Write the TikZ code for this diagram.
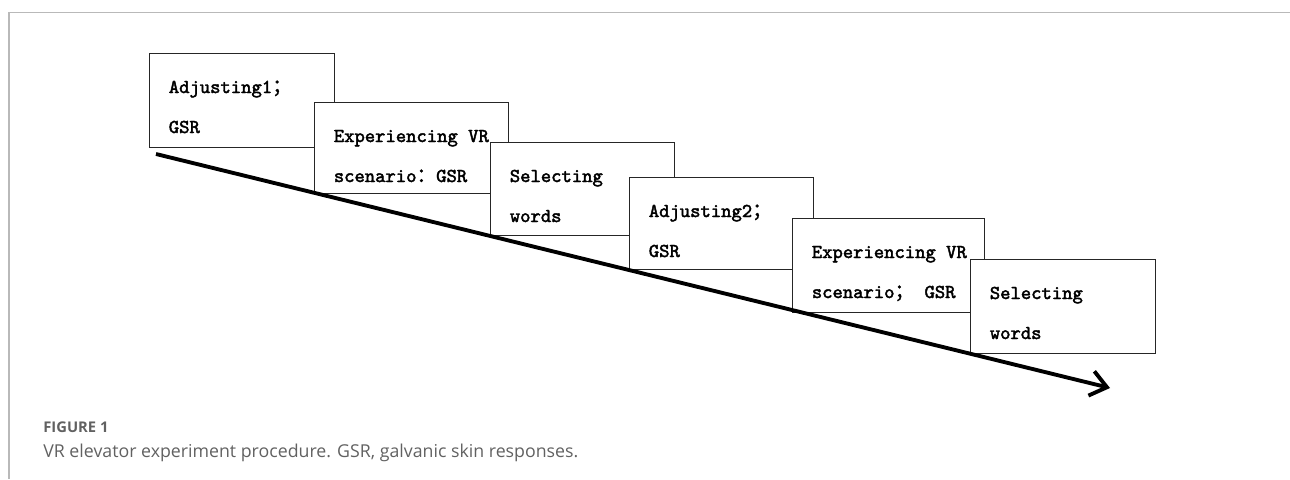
\documentclass[tikz,border=0pt]{standalone}
\usepackage{fontspec}
\setmainfont{Open Sans}
\newfontfamily\cjk{Noto Sans CJK SC}[FakeBold=1.5]
\newfontfamily\boxfont{lmmono10-regular}[Extension=.otf, FakeBold=2.2]
\usetikzlibrary{arrows.meta}

\tikzset{
  stage/.style={draw=black!85, line width=0.6pt, fill=white, anchor=north west, inner sep=0pt},
  stagetext/.style={anchor=base west, inner sep=0pt, font=\boxfont\fontsize{11.2}{14}\selectfont},
  captext/.style={anchor=base west, inner sep=0pt, text=black!62},
}

\begin{document}
\begin{tikzpicture}
\useasboundingbox (0,0) rectangle (25.8,-9.58);

% page frame
\draw[gray!55, line width=0.8pt] (25.8,-0.25) -- (0.18,-0.25) -- (0.18,-9.58);

\foreach \nm/\x/\y/\w/\h/\la/\lb in {
  adjA/2.98/-1.06/3.70/1.88/{Adjusting1{\cjk ；}}/{GSR},
  expA/6.28/-2.04/3.88/1.82/{Experiencing VR}/{scenario{\cjk ：}GSR},
  selA/9.80/-2.84/3.68/1.86/{Selecting}/{words},
  adjB/12.58/-3.54/3.68/1.84/{Adjusting2{\cjk ；}}/{GSR},
  expB/15.84/-4.36/3.84/1.88/{Experiencing VR}/{scenario{\cjk ；} GSR},
  selB/19.40/-5.18/3.70/1.88/{Selecting}/{words}} {
  \node[stage, minimum width=\w cm, minimum height=\h cm] (\nm) at (\x,\y) {};
  \node[stagetext] (\nm-a) at ([shift={(0.39,-0.80)}]\nm.north west) {\la};
  \node[stagetext] (\nm-b) at ([shift={(0.39,-1.60)}]\nm.north west) {\lb};
}

% time line
\coordinate (start) at (3.12,-3.08);
\coordinate (end) at (22.2,-7.76);
\draw[-{Straight Barb[length=0.32cm,width=0.5cm]}, line width=2.2pt] (start) -- (end);

\node[captext, font=\bfseries\fontsize{8.4}{10}\selectfont] (fig) at (0.86,-8.64) {FIGURE 1};
\node[captext, font=\fontsize{10.1}{12}\selectfont] (cap) at (0.86,-9.14) {VR elevator experiment procedure. GSR, galvanic skin responses.};

\end{tikzpicture}
\end{document}
